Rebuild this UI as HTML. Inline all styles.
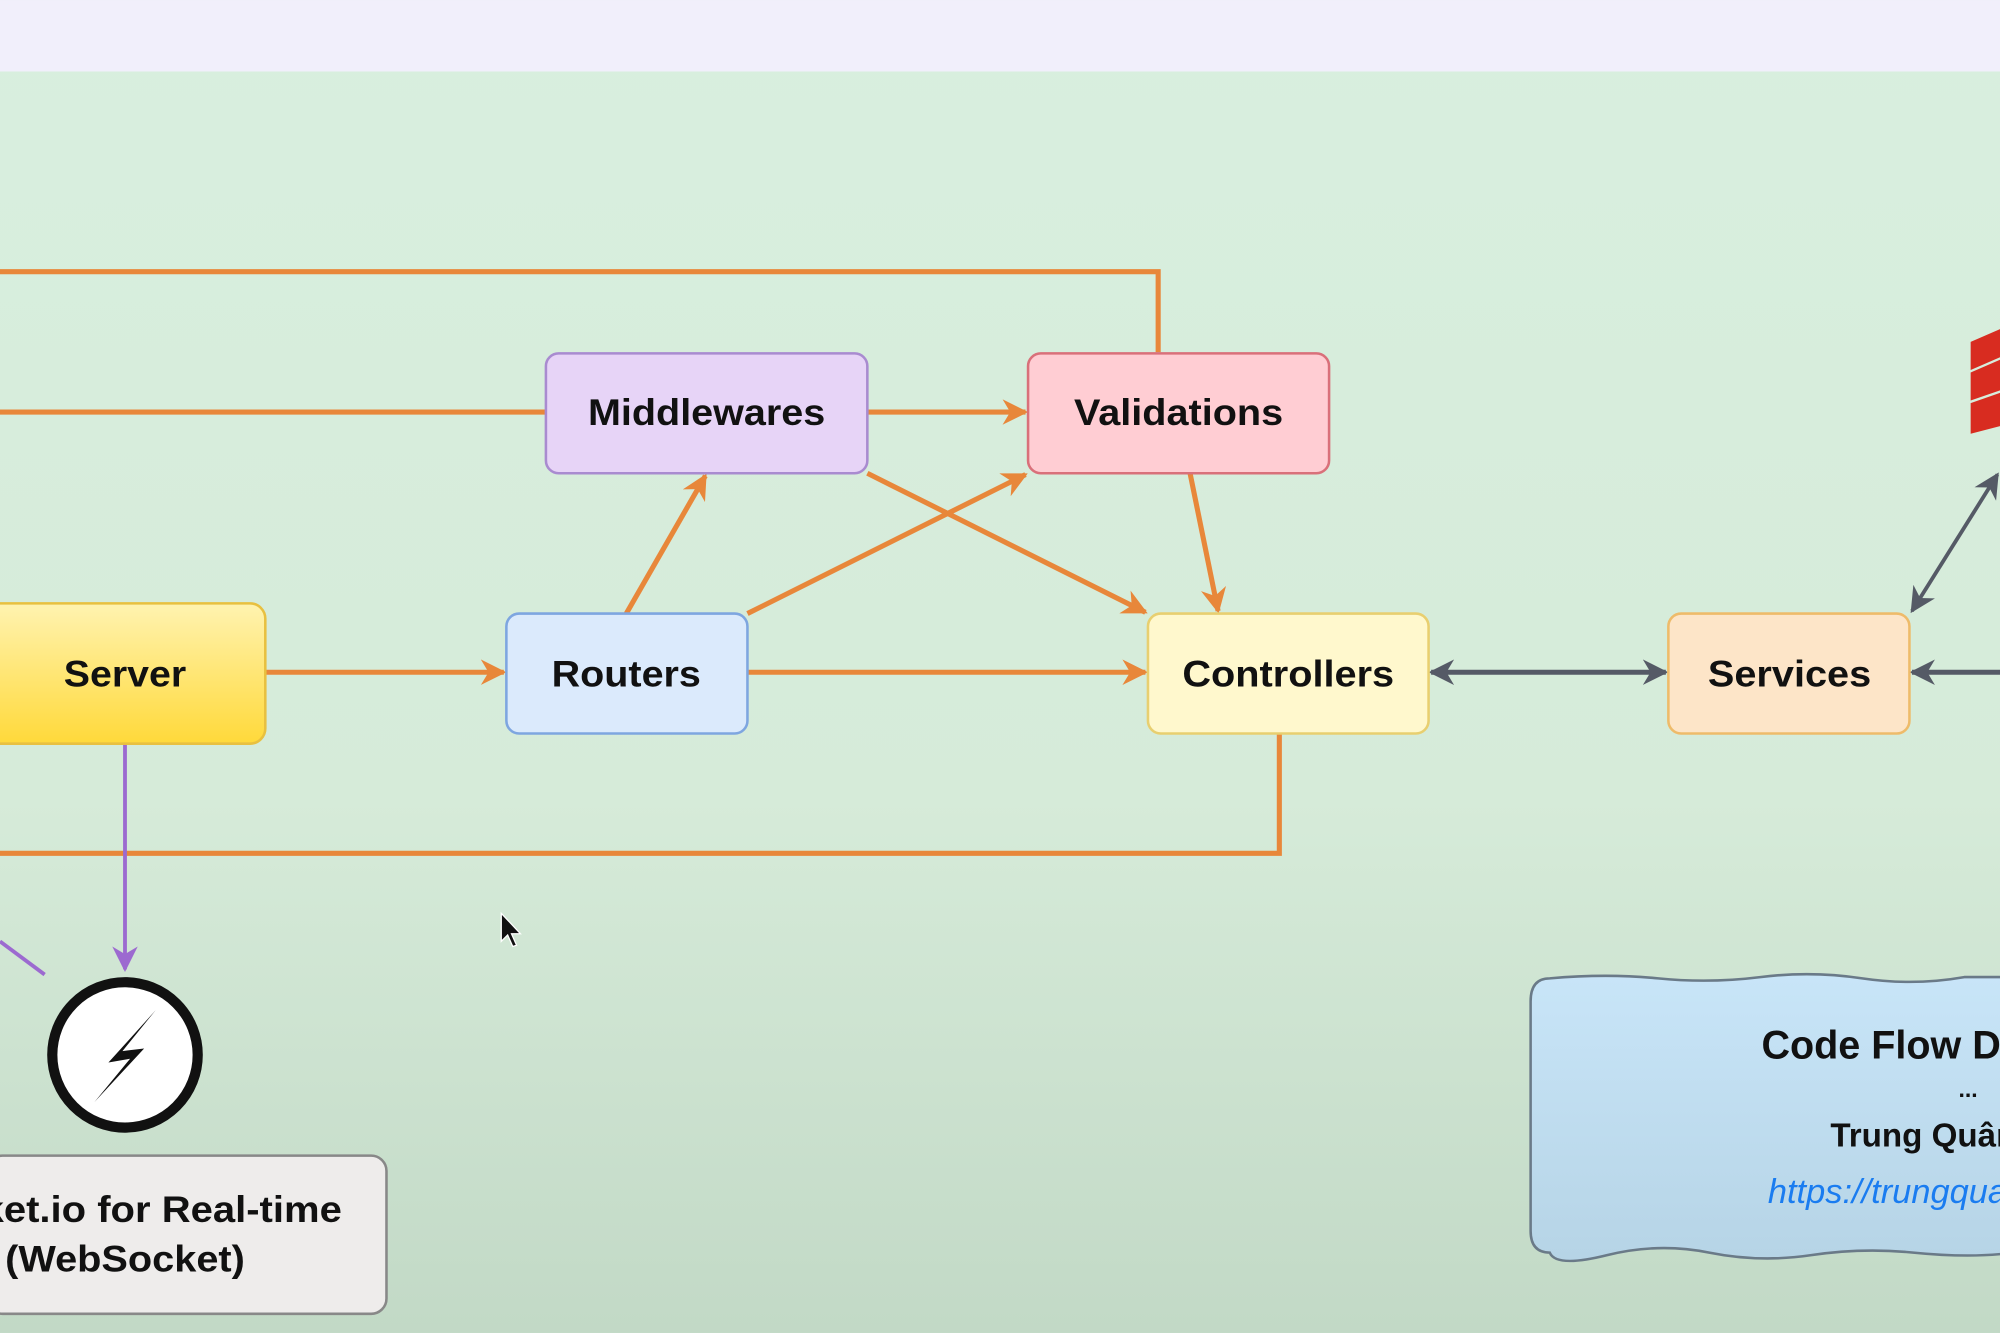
<!DOCTYPE html>
<html><head><meta charset="utf-8"><style>
html,body{margin:0;padding:0;width:2000px;height:1333px;overflow:hidden;background:#d8efdf}
svg{display:block}
text{font-family:"Liberation Sans",sans-serif;font-weight:bold}
text.link{font-weight:normal;font-style:italic}
</style></head><body>
<svg width="2000" height="1333" viewBox="0 0 1568 1045" xmlns="http://www.w3.org/2000/svg">
<defs>
<linearGradient id="bg" x1="0" y1="0" x2="0" y2="1">
<stop offset="0" stop-color="#d8efdf"/><stop offset="0.6" stop-color="#d6ebd9"/><stop offset="1" stop-color="#c2d9c6"/>
</linearGradient>
<linearGradient id="srv" x1="0" y1="0" x2="0" y2="1">
<stop offset="0" stop-color="#fff3b0"/><stop offset="1" stop-color="#ffd93a"/>
</linearGradient>
<linearGradient id="note" x1="0" y1="0" x2="0" y2="1">
<stop offset="0" stop-color="#c8e5f8"/><stop offset="1" stop-color="#b6d4e6"/>
</linearGradient>
<marker id="ao" viewBox="0 0 10 10" refX="9" refY="5" markerWidth="20" markerHeight="20" orient="auto" markerUnits="userSpaceOnUse">
<path d="M0,0 L10,5 L0,10 L3,5 z" fill="#e8873a"/></marker>
<marker id="ag" viewBox="0 0 10 10" refX="9" refY="5" markerWidth="20" markerHeight="20" orient="auto-start-reverse" markerUnits="userSpaceOnUse">
<path d="M0,0 L10,5 L0,10 L3,5 z" fill="#555a66"/></marker>
<marker id="ap" viewBox="0 0 10 10" refX="9" refY="5" markerWidth="20" markerHeight="20" orient="auto" markerUnits="userSpaceOnUse">
<path d="M0,0 L10,5 L0,10 L3,5 z" fill="#9c6ad0"/></marker>
</defs>
<rect width="1568" height="1045" fill="url(#bg)"/>
<rect width="1568" height="56" fill="#f1effb"/>

<g fill="none" stroke="#e8873a" stroke-width="4">
<polyline points="0,213 908,213 908,276"/>
<line x1="0" y1="323" x2="428" y2="323"/>
<polyline points="1003,575 1003,669 0,669"/>
</g>
<g fill="none" stroke="#e8873a" stroke-width="4" marker-end="url(#ao)">
<line x1="680" y1="323" x2="804" y2="323"/>
<line x1="208" y1="527" x2="395" y2="527"/>
<line x1="586" y1="527" x2="898" y2="527"/>
<line x1="491" y1="481" x2="553" y2="373"/>
<line x1="586" y1="481" x2="804" y2="372"/>
<line x1="680" y1="371" x2="898" y2="480"/>
<line x1="933" y1="371" x2="955" y2="479"/>
</g>
<g fill="none" stroke="#555a66" stroke-width="4">
<line x1="1122" y1="527" x2="1306" y2="527" marker-start="url(#ag)" marker-end="url(#ag)"/>
<line x1="1568" y1="527" x2="1499" y2="527" marker-end="url(#ag)"/>
<line x1="1499" y1="479" x2="1566" y2="372" marker-start="url(#ag)" marker-end="url(#ag)" stroke-width="3"/>
</g>
<g stroke="#9c6ad0" stroke-width="3" fill="none">
<line x1="98" y1="583" x2="98" y2="760" marker-end="url(#ap)"/>
<line x1="0" y1="738" x2="35" y2="764"/>
</g>

<rect x="428" y="277" width="252" height="94" rx="10" fill="#e7d4f7" stroke="#a98bd0" stroke-width="2"/>
<rect x="806" y="277" width="236" height="94" rx="10" fill="#ffcdd3" stroke="#d9707a" stroke-width="2"/>
<rect x="-20" y="473" width="228" height="110" rx="12" fill="url(#srv)" stroke="#e8c040" stroke-width="2"/>
<rect x="397" y="481" width="189" height="94" rx="10" fill="#dbeafc" stroke="#7ea6e0" stroke-width="2"/>
<rect x="900" y="481" width="220" height="94" rx="10" fill="#fff8cd" stroke="#e8cf70" stroke-width="2"/>
<rect x="1308" y="481" width="189" height="94" rx="10" fill="#fde5c8" stroke="#eebb6a" stroke-width="2"/>
<g font-size="29" text-anchor="middle" fill="#111">
<text x="554" y="333" textLength="186" lengthAdjust="spacingAndGlyphs">Middlewares</text>
<text x="924" y="333" textLength="164" lengthAdjust="spacingAndGlyphs">Validations</text>
<text x="98" y="538" textLength="96" lengthAdjust="spacingAndGlyphs">Server</text>
<text x="491" y="538" textLength="117" lengthAdjust="spacingAndGlyphs">Routers</text>
<text x="1010" y="538" textLength="166" lengthAdjust="spacingAndGlyphs">Controllers</text>
<text x="1403" y="538" textLength="128" lengthAdjust="spacingAndGlyphs">Services</text>
</g>

<g fill="#d82c20">
<path d="M1545,268 L1568,258 L1568,280 L1545,290 Z"/>
<path d="M1545,292 L1568,282 L1568,306 L1545,314 Z"/>
<path d="M1545,316 L1568,308 L1568,334 L1545,340 Z"/>
</g>

<circle cx="98" cy="827" r="57" fill="#fff" stroke="#111" stroke-width="8"/>
<path d="M122,792 L85,833 L102,830 L74,864 L113,822 L96,824 Z" fill="#111"/>
<rect x="-10" y="906" width="313" height="124" rx="12" fill="#eeeceb" stroke="#888" stroke-width="2"/>
<g font-size="29" text-anchor="middle" fill="#111">
<text x="98" y="958" textLength="340" lengthAdjust="spacingAndGlyphs">Socket.io for Real-time</text>
<text x="98" y="997" textLength="188" lengthAdjust="spacingAndGlyphs">(WebSocket)</text>
</g>

<path d="M1215,767 Q1260,763 1300,767 T1380,766 T1460,767 T1540,766 L1570,766 L1570,983 Q1540,986 1500,982 T1420,984 T1340,982 T1260,984 T1215,982 Q1200,982 1200,965 L1200,785 Q1200,767 1215,767 Z" fill="url(#note)" stroke="#6a7a88" stroke-width="2"/>
<text x="1381" y="830" font-size="31" fill="#111">Code Flow Diagram</text>
<text x="1543" y="860" font-size="18" text-anchor="middle" fill="#111">...</text>
<text x="1435" y="899" font-size="26" fill="#111">Trung Quân Dev</text>
<text class="link" x="1386" y="943" font-size="27" fill="#1a7cf0">https://trungquandev.com</text>

<path d="M393,716 L393,738 L398,733 L402,742 L405,741 L401,732 L408,732 Z" fill="#111" stroke="#fff" stroke-width="1"/>
</svg>
</body></html>
